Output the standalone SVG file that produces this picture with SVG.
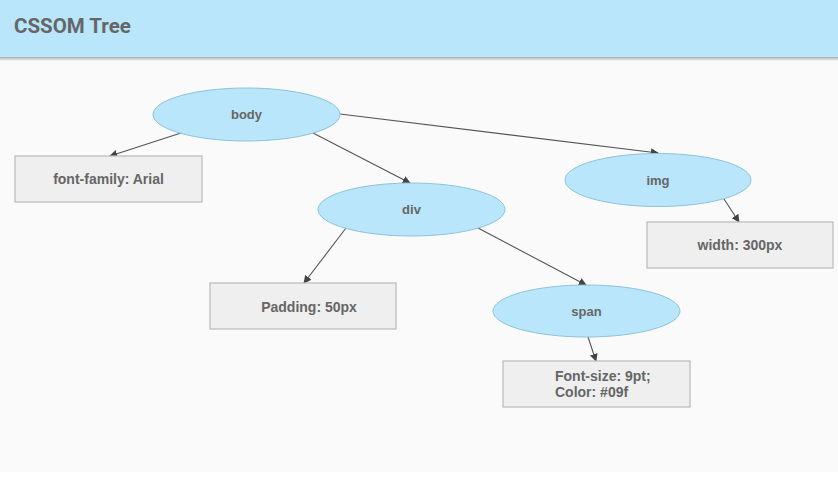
<svg xmlns="http://www.w3.org/2000/svg" width="838" height="482" viewBox="0 0 838 482">
<defs>
<style>
.ell{fill:#b9e6fa;stroke:#8ec3d9;stroke-width:1}
.box{fill:#efefef;stroke:#b9b9b9;stroke-width:1.2}
.lbl{font-family:"Liberation Sans",Arial,sans-serif;font-weight:bold;font-size:13px;fill:#666;text-anchor:middle}
.big{font-size:14px}
.lft{text-anchor:start;font-size:14px}
.edge{stroke:#555;stroke-width:1.1;fill:none;marker-end:url(#arr)}
</style>
<marker id="arr" viewBox="0 0 10 10" refX="9" refY="5" markerWidth="8" markerHeight="8" markerUnits="userSpaceOnUse" orient="auto">
<path d="M0,0 L10,5 L0,10 z" fill="#444"/>
</marker>
<linearGradient id="sh" x1="0" y1="0" x2="0" y2="1">
<stop offset="0" stop-color="#aaa"/>
<stop offset="1" stop-color="#fafafa"/>
</linearGradient>
</defs>
<rect x="0" y="0" width="838" height="482" fill="#ffffff"/>
<rect x="0" y="57" width="838" height="415" fill="#fafafa"/>
<rect x="0" y="57" width="838" height="4" fill="url(#sh)"/>
<g id="header">
<rect x="0" y="0" width="838" height="57" fill="#b9e6fa"/>
<text x="14" y="33" font-family="Roboto,'Liberation Sans',sans-serif" font-weight="bold" font-size="20.5" fill="#666">CSSOM Tree</text>
</g>
<g id="connectors">
<line class="edge" x1="181" y1="133" x2="110" y2="156"/>
<line class="edge" x1="313" y1="133" x2="410" y2="183"/>
<line class="edge" x1="340" y1="114" x2="658" y2="153"/>
<line class="edge" x1="724" y1="199" x2="739" y2="222"/>
<line class="edge" x1="346" y1="228" x2="304" y2="283"/>
<line class="edge" x1="478" y1="228" x2="586" y2="285"/>
<line class="edge" x1="588" y1="337" x2="596" y2="361"/>
</g>
<g id="body">
<ellipse class="ell" cx="246.5" cy="114.5" rx="93.5" ry="26.5"/>
<text class="lbl" x="246.5" y="119">body</text>
</g>
<g id="fontfamily">
<rect class="box" x="15" y="156" width="187" height="46"/>
<text class="lbl big" x="108.5" y="184">font-family: Arial</text>
</g>
<g id="div">
<ellipse class="ell" cx="411.5" cy="209.5" rx="93.5" ry="26.5"/>
<text class="lbl" x="411.5" y="214">div</text>
</g>
<g id="img">
<ellipse class="ell" cx="658" cy="180" rx="93" ry="26.5"/>
<text class="lbl" x="658" y="184.5">img</text>
</g>
<g id="width">
<rect class="box" x="647" y="222" width="186" height="46"/>
<text class="lbl big" x="740" y="250">width: 300px</text>
</g>
<g id="padding">
<rect class="box" x="210" y="283" width="186" height="46"/>
<text class="lbl big" x="309" y="312">Padding: 50px</text>
</g>
<g id="span">
<ellipse class="ell" cx="586.5" cy="311" rx="93.5" ry="26"/>
<text class="lbl" x="586.5" y="315.5">span</text>
</g>
<g id="fontsize">
<rect class="box" x="503" y="361" width="187" height="46"/>
<text class="lbl lft" x="555" y="381">Font-size: 9pt;</text>
<text class="lbl lft" x="555" y="397">Color: #09f</text>
</g>
</svg>
